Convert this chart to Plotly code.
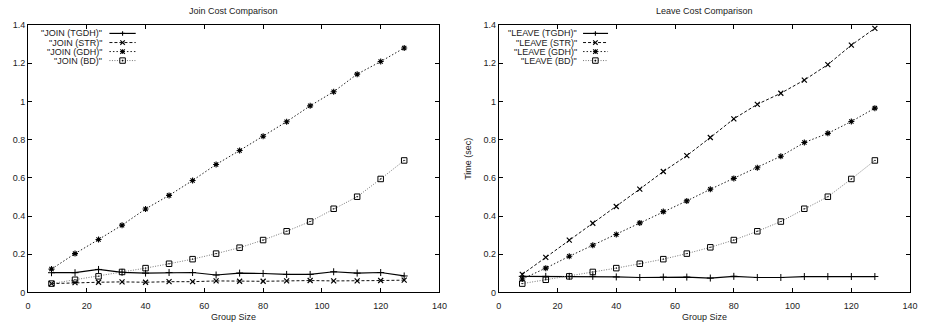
import plotly.graph_objects as go

# ---------------- data ----------------
group_size = [8, 16, 24, 32, 40, 48, 56, 64, 72, 80, 88, 96, 104, 112, 120, 128]

join_tgdh = [0.103, 0.103, 0.120, 0.105, 0.101, 0.104, 0.104, 0.091, 0.101, 0.099, 0.094, 0.094, 0.108, 0.101, 0.104, 0.086]
join_str = [0.046, 0.051, 0.053, 0.055, 0.053, 0.056, 0.056, 0.060, 0.058, 0.058, 0.060, 0.062, 0.060, 0.060, 0.062, 0.064]
join_gdh = [0.122, 0.203, 0.277, 0.352, 0.437, 0.508, 0.586, 0.670, 0.743, 0.818, 0.894, 0.977, 1.051, 1.143, 1.209, 1.280]
join_bd = [0.046, 0.066, 0.084, 0.107, 0.127, 0.150, 0.174, 0.203, 0.234, 0.274, 0.320, 0.371, 0.438, 0.501, 0.594, 0.691]

leave_tgdh = [0.084, 0.084, 0.084, 0.084, 0.081, 0.078, 0.080, 0.080, 0.075, 0.084, 0.078, 0.078, 0.083, 0.083, 0.083, 0.083]
leave_str = [0.094, 0.183, 0.274, 0.362, 0.450, 0.541, 0.633, 0.716, 0.811, 0.909, 0.985, 1.043, 1.112, 1.193, 1.295, 1.383]
leave_gdh = [0.070, 0.127, 0.189, 0.247, 0.303, 0.364, 0.423, 0.479, 0.540, 0.597, 0.653, 0.713, 0.785, 0.833, 0.895, 0.965]
leave_bd = [0.046, 0.066, 0.084, 0.107, 0.127, 0.150, 0.174, 0.203, 0.236, 0.274, 0.320, 0.371, 0.438, 0.501, 0.594, 0.691]

join_names = ['"JOIN (TGDH)"', '"JOIN (STR)"', '"JOIN (GDH)"', '"JOIN (BD)"']
leave_names = ['"LEAVE (TGDH)"', '"LEAVE (STR)"', '"LEAVE (GDH)"', '"LEAVE (BD)"']

titles = ["Join Cost Comparison", "Leave Cost Comparison"]
x_title = "Group Size"
y_title = "Time (sec)"
x_ticks = [0, 20, 40, 60, 80, 100, 120, 140]
y_ticks = [0, 0.2, 0.4, 0.6, 0.8, 1, 1.2, 1.4]

# ---------------- layout helpers ----------------
W, H = 928, 332
FONT = "Liberation Sans, Arial, sans-serif"
TXT = "#222222"


def px(x):
    return x / W


def py(y):
    return 1 - y / H


styles = [
    dict(line=dict(color="black", width=1.2, dash="solid"),
         marker=dict(symbol="cross-thin", size=5, color="black", line=dict(color="black", width=1))),
    dict(line=dict(color="#111111", width=1, dash="3px,2px"),
         marker=dict(symbol="x-thin", size=5, color="black", line=dict(color="black", width=1.2))),
    dict(line=dict(color="#222222", width=1, dash="1.5px,2px"),
         marker=dict(symbol="asterisk-open", size=5, color="black", line=dict(color="black", width=1.1))),
    dict(line=dict(color="#777777", width=1, dash="1px,1.5px"),
         marker=dict(symbol="square-open-dot", size=5.5, color="black", line=dict(color="black", width=1))),
]

fig = go.Figure()

panels = [
    ("x", "y", [join_tgdh, join_str, join_gdh, join_bd], join_names),
    ("x2", "y2", [leave_tgdh, leave_str, leave_gdh, leave_bd], leave_names),
]
for xa, ya, series, names in panels:
    for vals, name, st in zip(series, names, styles):
        fig.add_trace(go.Scatter(
            x=group_size, y=vals, name=name, mode="lines+markers",
            xaxis=xa, yaxis=ya, line=st["line"], marker=st["marker"],
            showlegend=False, cliponaxis=False,
        ))

plot_top, plot_bot = 20.7, 296.3
left_dom = [px(25.3), px(441.7)]
right_dom = [px(501.7), px(918.0)]
ydom = [py(plot_bot), py(plot_top)]

axis_common = dict(
    showline=True, linecolor="black", linewidth=1, mirror="ticks",
    ticks="inside", ticklen=4, tickcolor="black", tickwidth=1,
    showgrid=False, zeroline=False,
    tickfont=dict(family=FONT, size=9, color=TXT),
)

fig.update_layout(
    width=W, height=H, margin=dict(l=0, r=0, t=0, b=0),
    paper_bgcolor="white", plot_bgcolor="white",
    font=dict(family=FONT, size=9, color=TXT),
    xaxis=dict(domain=left_dom, range=[0, 140], tickvals=x_ticks, anchor="y",
               ticklabelstandoff=5, **axis_common),
    yaxis=dict(domain=ydom, range=[0, 1.4], tickvals=y_ticks, anchor="x", **axis_common),
    xaxis2=dict(domain=right_dom, range=[0, 140], tickvals=x_ticks, anchor="y2",
                ticklabelstandoff=5, **axis_common),
    yaxis2=dict(domain=ydom, range=[0, 1.4], tickvals=y_ticks, anchor="x2", **axis_common),
    showlegend=False,
)

annotations = []
shapes = []

# titles and axis titles
for dom, t in zip([left_dom, right_dom], titles):
    annotations.append(dict(text=t, x=(dom[0] + dom[1]) / 2, y=py(6.7), xref="paper", yref="paper",
                            xanchor="center", yanchor="middle", showarrow=False,
                            font=dict(family=FONT, size=9, color=TXT)))
    annotations.append(dict(text=x_title, x=(dom[0] + dom[1]) / 2, y=py(321.5), xref="paper", yref="paper",
                            xanchor="center", yanchor="middle", showarrow=False,
                            font=dict(family=FONT, size=9, color=TXT)))
annotations.append(dict(text=y_title, x=px(470.7), y=py(158.5), xref="paper", yref="paper",
                        xanchor="center", yanchor="middle", showarrow=False, textangle=-90,
                        font=dict(family=FONT, size=9, color=TXT)))

# gnuplot-style keys (text right-aligned, sample line + point on the right)
rows = [29.3, 38.7, 48.0, 57.3]
keys = [
    (join_names, 102.5, 107.7, 134.3, 121.0),
    (leave_names, 583.3, 587.0, 612.3, 599.5),
]


def seg(x0, y0, x1, y1, color="black", width=1, dash="solid"):
    shapes.append(dict(type="line", xref="paper", yref="paper",
                       x0=px(x0), y0=py(y0), x1=px(x1), y1=py(y1),
                       line=dict(color=color, width=width, dash=dash)))


def glyph(kind, cx, cy):
    r = 2.3
    if kind in (0, 2):
        seg(cx - r, cy, cx + r, cy, width=1.1)
        seg(cx, cy - r, cx, cy + r, width=1.1)
    if kind in (1, 2):
        seg(cx - r, cy - r, cx + r, cy + r, width=1.1)
        seg(cx - r, cy + r, cx + r, cy - r, width=1.1)
    if kind == 3:
        shapes.append(dict(type="rect", xref="paper", yref="paper",
                           x0=px(cx - 2.8), y0=py(cy + 2.8), x1=px(cx + 2.8), y1=py(cy - 2.8),
                           line=dict(color="black", width=1), fillcolor="white"))
        shapes.append(dict(type="rect", xref="paper", yref="paper",
                           x0=px(cx - 0.6), y0=py(cy + 0.6), x1=px(cx + 0.6), y1=py(cy - 0.6),
                           line=dict(color="black", width=0.5), fillcolor="black"))


for names, tx, lx0, lx1, mx in keys:
    for i, (nm, ry) in enumerate(zip(names, rows)):
        annotations.append(dict(text=nm, x=px(tx), y=py(ry), xref="paper", yref="paper",
                                xanchor="right", yanchor="middle", showarrow=False,
                                font=dict(family=FONT, size=9, color=TXT)))
        st = styles[i]["line"]
        seg(lx0, ry, lx1, ry, color=st["color"], width=st["width"], dash=st["dash"])
        glyph(i, mx, ry)

fig.update_layout(annotations=annotations, shapes=shapes)

fig.write_html("out.html")
